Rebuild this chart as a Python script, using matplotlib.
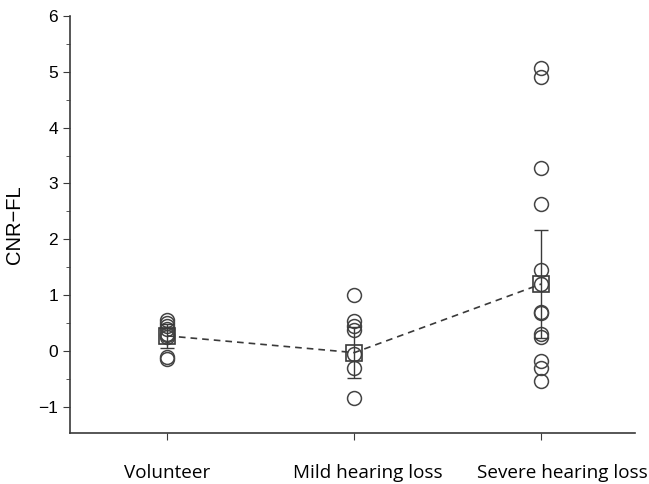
import matplotlib.pyplot as plt
import numpy as np
from matplotlib.ticker import MultipleLocator

groups = ["Volunteer", "Mild hearing loss", "Severe hearing loss"]
volunteer = [0.55, 0.5, 0.45, 0.4, 0.3, 0.28, 0.25, -0.1, -0.15]
mild = [1.0, 0.54, 0.45, 0.38, -0.05, -0.3, -0.85]
severe = [5.06, 4.9, 3.27, 2.64, 1.45, 1.2, 0.7, 0.68, 0.3, 0.25, -0.18, -0.3, -0.53]
means = [0.27, -0.03, 1.2]
errors = [0.21, 0.45, 0.97]

col = "#3a3a3a"
fig = plt.figure(figsize=(6.49, 4.84), dpi=100)
ax = fig.add_axes([70/649, 51/484, 565/649, 417/484])

for i, vals in enumerate([volunteer, mild, severe]):
    ax.plot([i + 1] * len(vals), vals, 'o', mfc='none', mec="#444444", ms=10, mew=1.1)

xs = np.arange(1, len(groups) + 1)
ax.errorbar(xs, means, yerr=errors, fmt='none', ecolor=col, elinewidth=1, capsize=5)
ax.plot(xs, means, '--', color=col, lw=1.2, dashes=(4, 3))
ax.plot(xs, means, 's', mfc='none', mec=col, ms=12, mew=1.2)

ax.set_xlim(0.48, 3.5)
ax.set_ylim(-1.47, 6)
ax.set_xticks(xs)
ax.set_xticklabels([])
# group names sit a little right of their ticks in the original
for x, name, dx in zip(xs, groups, [0, 10, 15]):
    ax.annotate(name, xy=(x, 0), xycoords=('data', 'axes fraction'),
                xytext=(dx, -29), textcoords='offset points',
                ha='center', va='center', fontfamily="Open Sans", fontsize=13.6,
                annotation_clip=False)
ax.set_yticks(np.arange(-1, 7, 1))
ax.set_yticklabels(["\u22121", "0", "1", "2", "3", "4", "5", "6"], fontfamily="Liberation Sans", fontsize=12.5)
ax.yaxis.set_minor_locator(MultipleLocator(0.5))
ax.tick_params(axis='x', length=5, color=col)
ax.tick_params(axis='y', which='both', length=5, color=col)
ax.tick_params(axis='y', which='minor', length=3)
for s in ['top', 'right']:
    ax.spines[s].set_visible(False)
for s in ['left', 'bottom']:
    ax.spines[s].set_color(col)
    ax.spines[s].set_linewidth(1.2)
ax.set_ylabel("CNR\u2212FL", fontfamily="Liberation Sans", fontsize=14.5, labelpad=10)

fig.savefig("out.png", dpi=100)
